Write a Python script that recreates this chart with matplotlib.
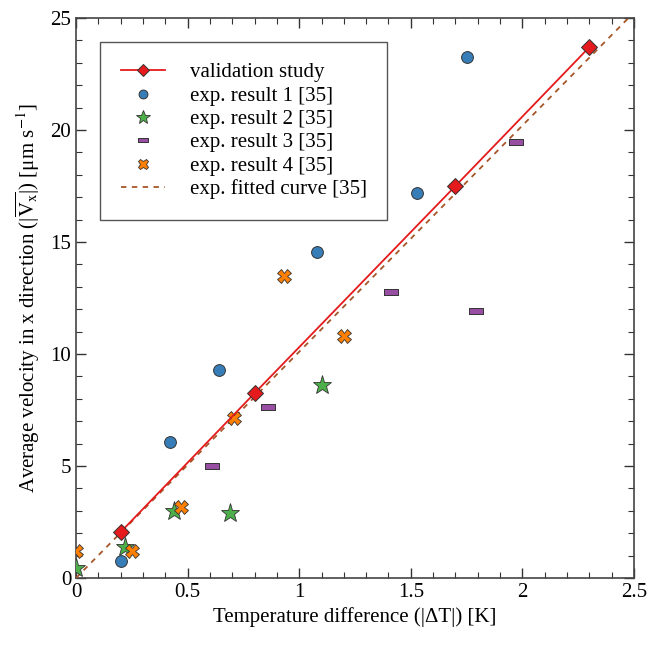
import matplotlib
matplotlib.use('Agg')
import matplotlib.pyplot as plt
from matplotlib.ticker import MultipleLocator

plt.rcParams['font.family'] = ['Liberation Serif', 'DejaVu Serif']
plt.rcParams['mathtext.fontset'] = 'stix'

# validation study
val_x = [0.2, 0.8, 1.7, 2.3]
val_y = [2.05, 8.25, 17.5, 23.7]

# experimental results [35]
exp1_x = [0.2, 0.42, 0.64, 1.08, 1.53, 1.75]
exp1_y = [0.75, 6.05, 9.3, 14.55, 17.2, 23.25]
exp2_x = [0.0, 0.22, 0.44, 0.69, 1.1]
exp2_y = [0.45, 1.4, 3.0, 2.92, 8.62]
exp3_x = [0.61, 0.86, 1.41, 1.79, 1.97]
exp3_y = [5.0, 7.65, 12.75, 11.92, 19.48]
exp4_x = [0.0, 0.25, 0.47, 0.71, 0.93, 1.2]
exp4_y = [1.2, 1.2, 3.18, 7.16, 13.5, 10.8]

# fitted curve end points
fit_x = [0.0, 2.6]
fit_y = [0.0, 26.26]

DPI = 100
fig = plt.figure(dpi=DPI, figsize=(653 / DPI, 646 / DPI))
ax = fig.add_axes([76 / 653, 1 - 578 / 646, 558 / 653, 560 / 646])

rect = [(-1, -0.45), (1, -0.45), (1, 0.45), (-1, 0.45), (-1, -0.45)]

ax.plot(val_x, val_y, color='#e41a1c', lw=1.3, marker='D', ms=8,
        mfc='#e41a1c', mec='#333333', mew=0.7, label='validation study', zorder=5)
ax.plot(exp1_x, exp1_y, ls='none', marker='o', ms=8.5, mfc='#377eb8',
        mec='#333333', mew=0.7, label='exp. result 1 [35]', zorder=4)
ax.plot(exp2_x, exp2_y, ls='none', marker='*', ms=14, mfc='#4daf4a',
        mec='#333333', mew=0.6, label='exp. result 2 [35]', zorder=4)
ax.plot(exp3_x, exp3_y, ls='none', marker=rect, ms=10, mfc='#984ea3',
        mec='#333333', mew=0.7, label='exp. result 3 [35]', zorder=4)
ax.plot(exp4_x, exp4_y, ls='none', marker='X', ms=10, mfc='#ff7f00',
        mec='#333333', mew=0.6, label='exp. result 4 [35]', zorder=4)
ax.plot(fit_x, fit_y, ls=(0, (3, 3)), color='#a65628', lw=1.3,
        label='exp. fitted curve [35]', zorder=3)

ax.set_xlim(0, 2.5)
ax.set_ylim(0, 25)
ax.xaxis.set_major_locator(MultipleLocator(0.5))
ax.xaxis.set_minor_locator(MultipleLocator(0.1))
ax.yaxis.set_major_locator(MultipleLocator(5))
ax.yaxis.set_minor_locator(MultipleLocator(1))
ax.set_xticks([0, 0.5, 1, 1.5, 2, 2.5])
ax.set_xticklabels(['0', '0.5', '1', '1.5', '2', '2.5'])
ax.tick_params(which='both', direction='in', top=True, right=True,
               labelsize=15, color='#333333')
ax.tick_params(which='major', length=7, width=1)
ax.tick_params(which='minor', length=4, width=0.8)
for s in ax.spines.values():
    s.set_color('#444444')
    s.set_linewidth(1.2)

ax.set_xlabel('Temperature difference (|ΔT|) [K]', fontsize=15)
ax.set_ylabel(r'Average velocity in x direction (|$\overline{\mathrm{V}_{\mathrm{x}}}$|) [μm s$^{\mathrm{-1}}$]',
              fontsize=15, labelpad=6)

leg = ax.legend(loc='upper left', bbox_to_anchor=(0.043, 0.957), fontsize=15,
                fancybox=False, edgecolor='#555555', framealpha=1,
                borderpad=1.0, labelspacing=0.18, handlelength=2.1,
                handletextpad=1.2, borderaxespad=0, markerscale=0.75)
leg.get_frame().set_linewidth(1.0)

fig.savefig('out.png', dpi=DPI)
